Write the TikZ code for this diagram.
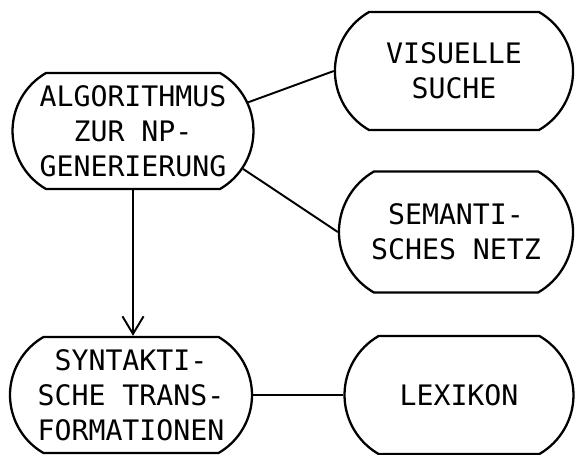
\documentclass[tikz,border=0pt]{standalone}
\usepackage{fontspec}
\newfontfamily\plotfont{DejaVu Sans Mono}
\usetikzlibrary{shapes.misc,arrows.meta}
\begin{document}
\begin{tikzpicture}[x=0.567pt,y=-0.567pt,
  blob/.style={draw, line width=1.3pt, rounded rectangle, rounded rectangle arc length=120,
    inner sep=0pt, align=center, font=\plotfont\fontsize{16pt}{19.8pt}\selectfont},
  conn/.style={line width=1.1pt}]
\useasboundingbox (0,0) rectangle (575,455);
\node[blob, minimum width=136.6pt, minimum height=65.8pt] (A) at (133,131) {ALGORITHMUS\\ZUR NP-\\GENERIERUNG};
\node[blob, minimum width=135pt, minimum height=66.9pt] (V) at (454,71) {VISUELLE\\SUCHE};
\node[blob, minimum width=132.7pt, minimum height=68.6pt] (S) at (456,232) {SEMANTI-\\SCHES NETZ};
\node[blob, minimum width=137.2pt, minimum height=65.8pt] (T) at (131,395) {SYNTAKTI-\\SCHE TRANS-\\FORMATIONEN};
\node[blob, minimum width=129.8pt, minimum height=66.9pt] (L) at (459,395) {LEXIKON};
\draw[conn] (A.14) -- (V.west);
\draw[conn] (A.-19) -- (S.west);
\draw[conn] (T.east) -- (L.west);
\draw[conn, -{Straight Barb[length=10pt,width=12pt,line width=1.1pt]}] (A.south) -- (A.south |- T.north);
\end{tikzpicture}
\end{document}
